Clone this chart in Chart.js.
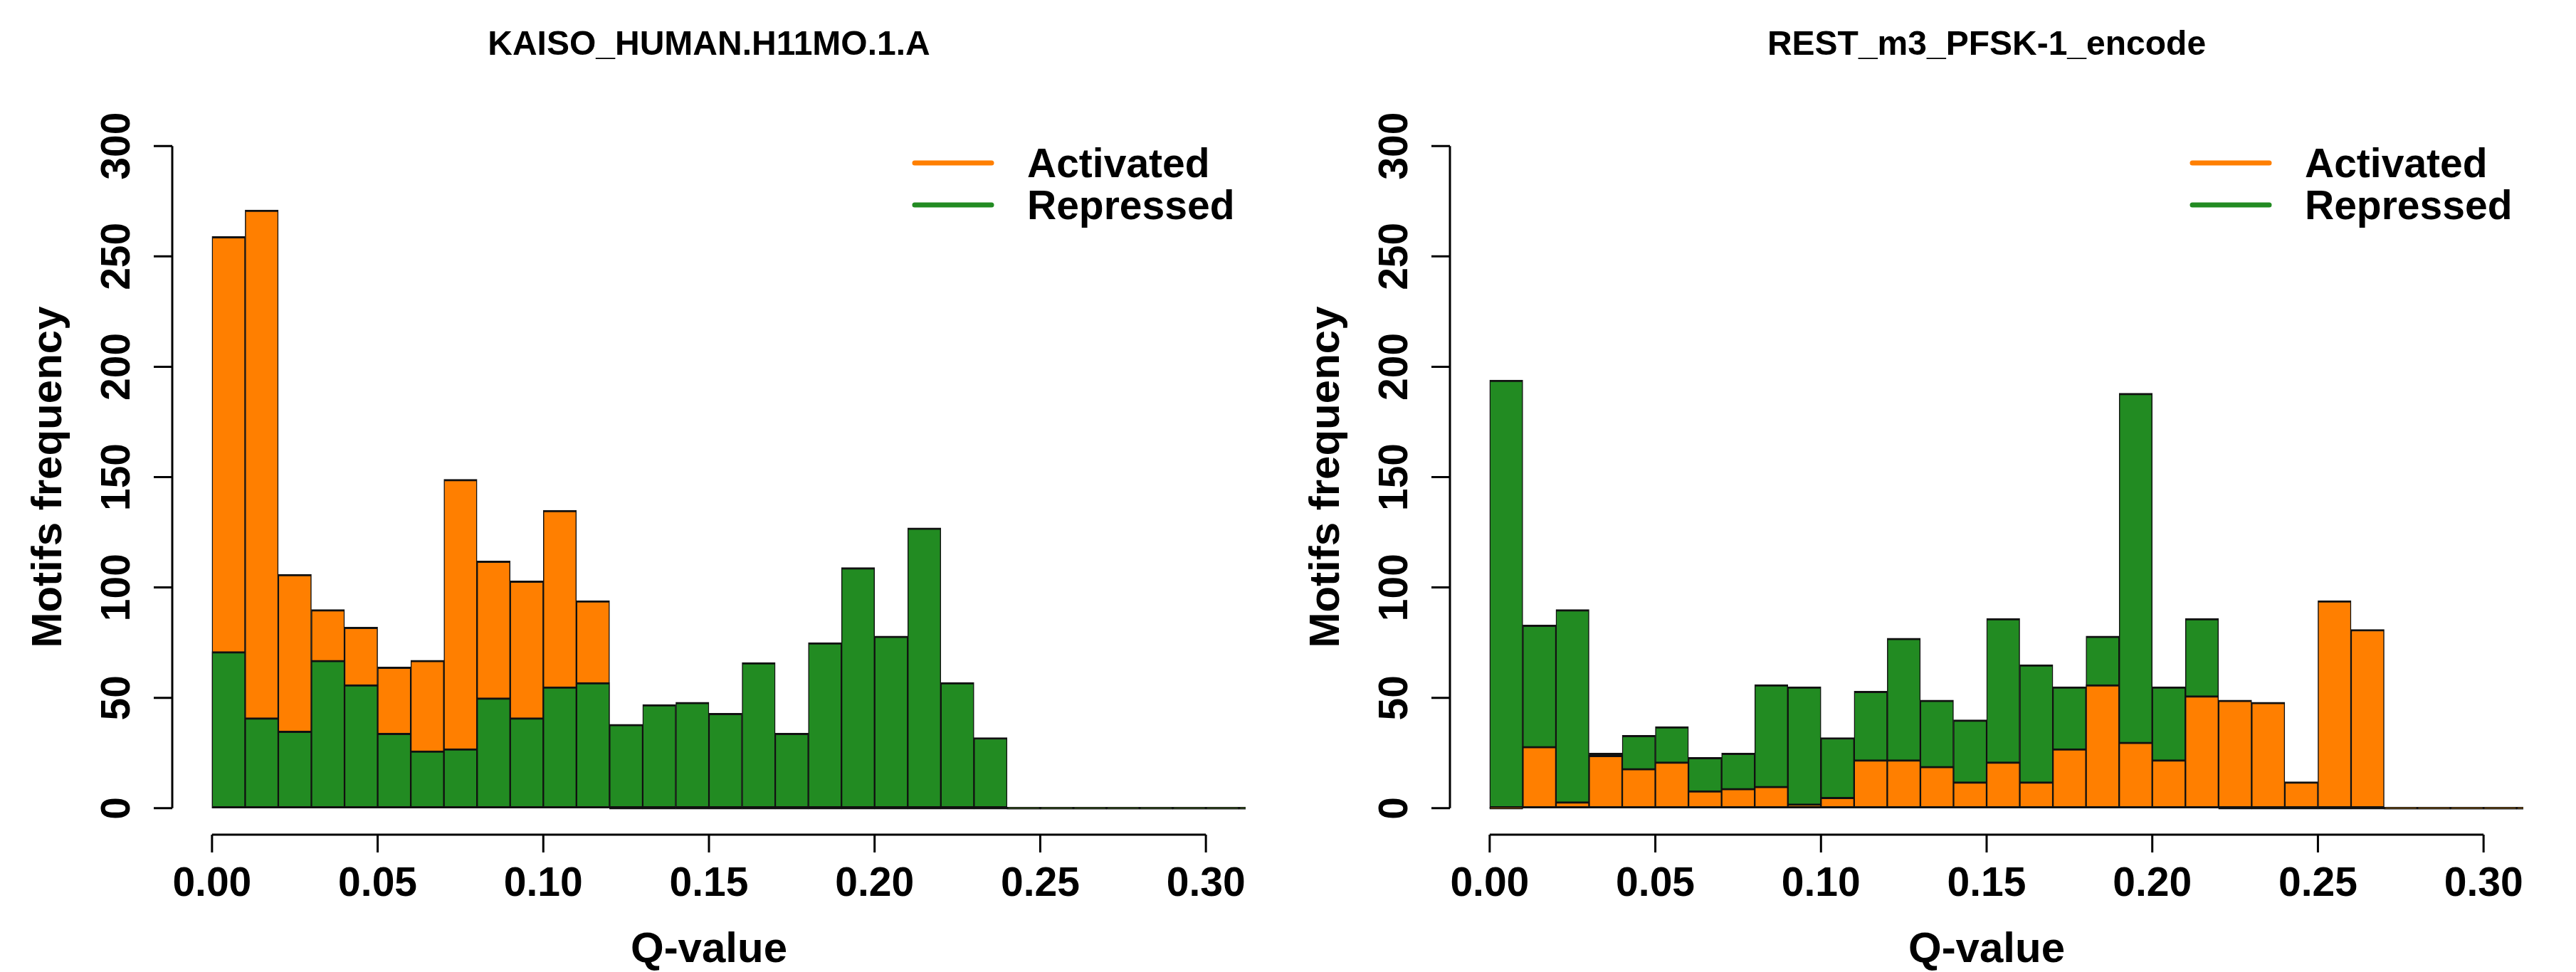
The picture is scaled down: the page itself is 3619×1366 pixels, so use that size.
<!DOCTYPE html>
<html>
<head>
<meta charset="utf-8">
<script src="https://cdn.jsdelivr.net/npm/chart.js@4.4.1/dist/chart.umd.min.js"></script>
<style>
    html, body { margin: 0; padding: 0; background: #fff; }
    #tela { position: relative; width: 3619px; height: 1366px; }
    canvas { position: absolute; top: 0; }
</style>
</head>
<body>
<div id="tela">
    <canvas id="grap1" width="1795" height="1366" style="left:0px"></canvas>
    <canvas id="grap2" width="1824" height="1366" style="left:1795px"></canvas>
</div>
<script>
// centros dos bins do histograma (largura 0.01)
const bins = [0.005, 0.015, 0.025, 0.035, 0.045, 0.055, 0.065, 0.075, 0.085, 0.095,
              0.105, 0.115, 0.125, 0.135, 0.145, 0.155, 0.165, 0.175, 0.185, 0.195,
              0.205, 0.215, 0.225, 0.235, 0.245, 0.255, 0.265, 0.275, 0.285, 0.295,
              0.305, 0.315]

const xTicks = [0, 0.05, 0.10, 0.15, 0.20, 0.25, 0.30]
const yTicks = [0, 50, 100, 150, 200, 250, 300]

const kaisoActivated = [259, 271, 106, 90, 82, 64, 67, 149, 112, 103, 135, 94,
                        0, 0, 0, 0, 0, 0, 0, 0, 0, 0, 0, 0, 0, 0, 0, 0, 0, 0, 0, 0]
const kaisoRepressed = [71, 41, 35, 67, 56, 34, 26, 27, 50, 41, 55, 57,
                        38, 47, 48, 43, 66, 34, 75, 109, 78, 127, 57, 32, 0, 0, 0, 0, 0, 0, 0, 0]

const restActivated = [0, 28, 3, 24, 18, 21, 8, 9, 10, 2, 5, 22,
                       22, 19, 12, 21, 12, 27, 56, 30, 22, 51, 49, 48, 12, 94, 81, 0, 0, 0, 0, 0]
const restRepressed = [194, 83, 90, 25, 33, 37, 23, 25, 56, 55, 32, 53,
                       77, 49, 40, 86, 65, 55, 78, 188, 55, 86, 0, 0, 0, 0, 0, 0, 0, 0, 0, 0]

const laranja = "#ff7f00"
const verde = "#228b22"
const fonte = '"Liberation Sans", Arial, Helvetica, sans-serif'

function desenharEixos(chart, titulo) {
    const ctx = chart.ctx
    const area = chart.chartArea
    const sx = chart.scales.x
    const sy = chart.scales.y

    ctx.save()
    ctx.strokeStyle = "#000"
    ctx.fillStyle = "#000"
    ctx.lineWidth = 3

    // eixo y
    ctx.beginPath()
    ctx.moveTo(area.left, sy.getPixelForValue(yTicks[0]))
    ctx.lineTo(area.left, sy.getPixelForValue(yTicks[yTicks.length - 1]))
    sy.ticks.forEach(t => {
        const py = sy.getPixelForValue(t.value)
        ctx.moveTo(area.left, py)
        ctx.lineTo(area.left - 26, py)
    })
    // eixo x
    ctx.moveTo(sx.getPixelForValue(xTicks[0]), area.bottom)
    ctx.lineTo(sx.getPixelForValue(xTicks[xTicks.length - 1]), area.bottom)
    sx.ticks.forEach(t => {
        const px = sx.getPixelForValue(t.value)
        ctx.moveTo(px, area.bottom)
        ctx.lineTo(px, area.bottom + 25)
    })
    ctx.stroke()

    ctx.font = "bold 57px " + fonte
    ctx.textAlign = "center"
    ctx.textBaseline = "alphabetic"
    sx.ticks.forEach(t => {
        ctx.fillText(t.value.toFixed(2), sx.getPixelForValue(t.value), area.bottom + 86)
    })
    sy.ticks.forEach(t => {
        ctx.save()
        ctx.translate(area.left - 60, sy.getPixelForValue(t.value))
        ctx.rotate(-Math.PI / 2)
        ctx.fillText(String(t.value), 0, 0)
        ctx.restore()
    })

    // titulos
    const meio = (area.left + area.right) / 2
    ctx.font = "bold 60px " + fonte
    ctx.fillText("Q-value", meio, area.bottom + 179)
    ctx.save()
    ctx.translate(area.left - 156, (area.top + area.bottom) / 2)
    ctx.rotate(-Math.PI / 2)
    ctx.fillText("Motifs frequency", 0, 0)
    ctx.restore()

    ctx.font = "bold 48px " + fonte
    ctx.fillText(titulo, meio, 77)

    // legenda
    const itens = [["Activated", laranja], ["Repressed", verde]]
    ctx.lineWidth = 7
    ctx.lineCap = "round"
    ctx.font = "bold 57px " + fonte
    ctx.textAlign = "left"
    itens.forEach((item, i) => {
        const ly = area.top + 61 + i * 59
        ctx.strokeStyle = item[1]
        ctx.beginPath()
        ctx.moveTo(area.right - 465, ly)
        ctx.lineTo(area.right - 357, ly)
        ctx.stroke()
        ctx.fillText(item[0], area.right - 307, ly + 20)
    })
    ctx.restore()
}

function criarGraf(id, titulo, frente, tras, larg) {
    const ctx = document.getElementById(id).getContext('2d')

    const serie = (d, ordem) => ({
        label: d.nome,
        data: bins.map((b, i) => ({ x: b, y: d.valores[i] })),
        backgroundColor: d.cor,
        borderColor: "#111",
        borderWidth: { top: 3, bottom: 3, left: 1.5, right: 1.5 },
        borderSkipped: false,
        minBarLength: 3,
        grouped: false,
        categoryPercentage: 1,
        barPercentage: 1,
        order: ordem,
        clip: 0
    })

    new Chart(ctx, {
        type: 'bar',
        data: {
            datasets: [serie(frente, 0), serie(tras, 1)]
        },
        options: {
            responsive: false,
            maintainAspectRatio: false,
            animation: false,
            layout: {
                padding: { left: 242, right: larg - 1750, top: 168, bottom: 193 }
            },
            plugins: {
                legend: { display: false },
                tooltip: { enabled: false }
            },
            scales: {
                x: {
                    type: 'linear',
                    display: false,
                    offset: false,
                    min: -0.012,
                    max: 0.312,
                    afterBuildTicks: s => { s.ticks = xTicks.map(v => ({ value: v })) }
                },
                y: {
                    display: false,
                    min: -12,
                    max: 312,
                    afterBuildTicks: s => { s.ticks = yTicks.map(v => ({ value: v })) }
                }
            }
        },
        plugins: [{
            id: 'eixosR',
            afterDraw: chart => desenharEixos(chart, titulo)
        }]
    })
}

criarGraf('grap1', "KAISO_HUMAN.H11MO.1.A",
    { nome: "Repressed", valores: kaisoRepressed, cor: verde },
    { nome: "Activated", valores: kaisoActivated, cor: laranja }, 1795)

criarGraf('grap2', "REST_m3_PFSK-1_encode",
    { nome: "Activated", valores: restActivated, cor: laranja },
    { nome: "Repressed", valores: restRepressed, cor: verde }, 1824)
</script>
</body>
</html>
